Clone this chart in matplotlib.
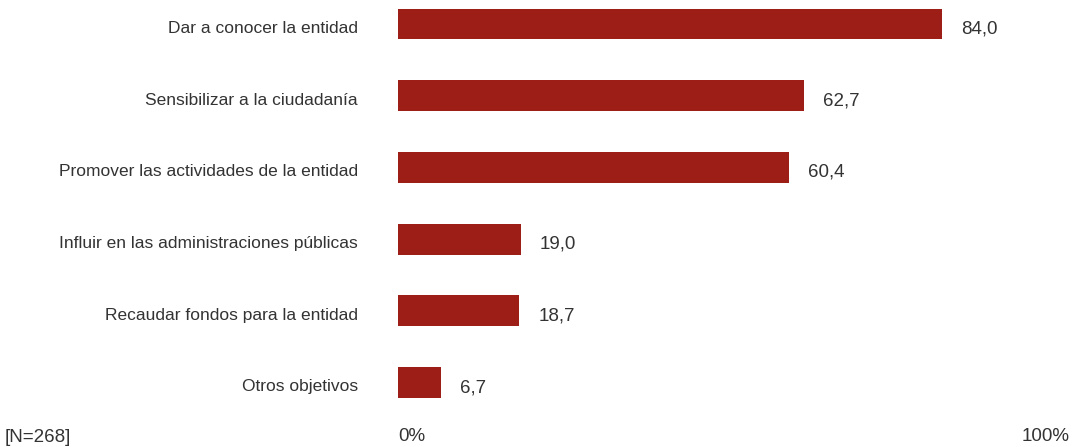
import matplotlib
matplotlib.use("Agg")
import matplotlib.pyplot as plt

# data
categories = [
    "Dar a conocer la entidad",
    "Sensibilizar a la ciudadanía",
    "Promover las actividades de la entidad",
    "Influir en las administraciones públicas",
    "Recaudar fondos para la entidad",
    "Otros objetivos",
]
values = [84.0, 62.7, 60.4, 19.0, 18.7, 6.7]
value_labels = ["84,0", "62,7", "60,4", "19,0", "18,7", "6,7"]
axis_labels = ["0%", "100%"]
note = "[N=268]"

plt.rcParams["font.family"] = ["Liberation Sans", "DejaVu Sans"]

bar_color = "#9d1d17"
text_color = "#333333"
fs = 13.5
fs_cat = 12.5

fig = plt.figure(figsize=(10.74, 4.47), dpi=100)
# axes: x 0 -> pixel 398, 100 -> pixel 1046; full height
ax = fig.add_axes([398 / 1074, 0, 648 / 1074, 1])

ypos = list(range(len(categories)))
ax.barh(ypos, values, height=0.432, color=bar_color)

px_per_unit = 71.7
ax.set_ylim(5 + (447 - 382.5) / px_per_unit, -24 / px_per_unit)
ax.set_xlim(0, 100)
ax.axis("off")

unit_x = 648 / 100.0
for y, cat, v, lab in zip(ypos, categories, values, value_labels):
    ax.text(-40 / unit_x, y + 0.06, cat, ha="right", va="center",
            fontsize=fs_cat, color=text_color, clip_on=False)
    ax.text(v + 19 / unit_x, y + 0.07, lab, ha="left", va="center",
            fontsize=fs, color=text_color, clip_on=False)

ybot = 5 + (437 - 382.5) / px_per_unit
ax.text(0, ybot, axis_labels[0], ha="left", va="center", fontsize=fs,
        color=text_color, clip_on=False)
ax.text(100, ybot, axis_labels[1], ha="center", va="center", fontsize=fs,
        color=text_color, clip_on=False)
fig.text(5 / 1074, 1 - 437 / 447, note, ha="left", va="center",
         fontsize=fs, color=text_color)

fig.savefig("out.png", dpi=100)
